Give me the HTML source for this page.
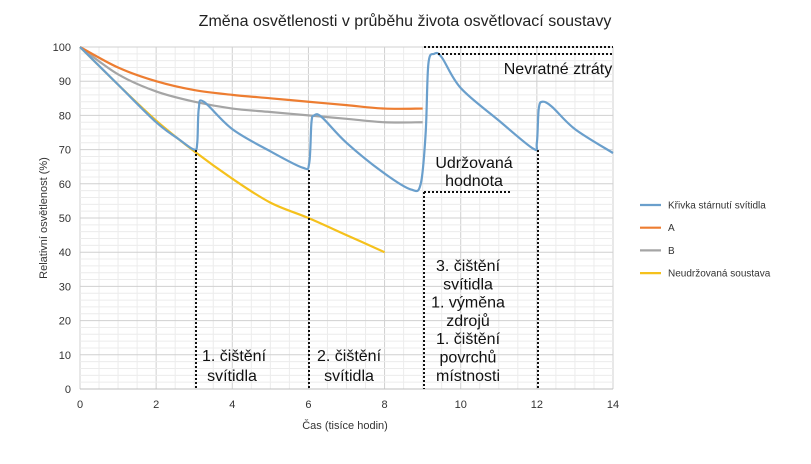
<!DOCTYPE html>
<html><head><meta charset="utf-8"><style>
body{margin:0;background:#fff}
svg{display:block;font-family:"Liberation Sans",Arial,sans-serif}
</style></head><body>
<svg id="c" width="811" height="464" viewBox="0 0 811 464">
<g id="grid"></g>
<g id="series"></g>
<g id="annot">
<text x="405" y="26" font-size="16" text-anchor="middle" fill="#222">Změna osvětlenosti v průběhu života osvětlovací soustavy</text>
<text x="345" y="429" font-size="11" text-anchor="middle" fill="#333">Čas (tisíce hodin)</text>
<text transform="translate(47,218) rotate(-90)" font-size="11" text-anchor="middle" fill="#333">Relativní osvětlenost (%)</text>
<g fill="#111" font-size="16" text-anchor="middle">
<text x="234" y="361"><tspan x="234">1. čištění</tspan><tspan x="232" dy="20">svítidla</tspan></text>
<text x="349" y="361"><tspan x="349">2. čištění</tspan><tspan x="349" dy="20">svítidla</tspan></text>
<text x="468" y="271"><tspan x="468">3. čištění</tspan><tspan x="468" dy="18.3">svítidla</tspan><tspan x="468" dy="18.3">1. výměna</tspan><tspan x="468" dy="18.3">zdrojů</tspan><tspan x="468" dy="18.3">1. čištění</tspan><tspan x="468" dy="18.3">povrchů</tspan><tspan x="468" dy="18.3">místnosti</tspan></text>
<text x="474" y="168"><tspan x="474">Udržovaná</tspan><tspan x="474" dy="18">hodnota</tspan></text>
<text x="558" y="74">Nevratné ztráty</text>
</g>
<g stroke="#111" stroke-width="2" stroke-dasharray="2,2" fill="none">
<line x1="196" y1="150" x2="196" y2="389"/>
<line x1="309" y1="170" x2="309" y2="389"/>
<line x1="424" y1="192" x2="424" y2="389"/>
<line x1="424" y1="192" x2="512" y2="192"/>
<line x1="538" y1="150" x2="538" y2="389"/>
<line x1="424" y1="47" x2="613" y2="47"/>
<line x1="438" y1="54" x2="613" y2="54"/>
</g>
</g>
<g id="legend"></g>
</svg>
<script>
const xTicks=[0,2,4,6,8,10,12,14];
const yTicks=[0,10,20,30,40,50,60,70,80,90,100];
const seriesNames=["Křivka stárnutí svítidla","A","B","Neudržovaná soustava"];
const seriesColors=["#6a9fcc","#ed7d31","#a5a5a5","#f5c11c"];
const agingX=[0,1,2,2.6,3.0,3.08,3.12,3.25,4,5,5.85,6.02,6.08,6.15,6.35,7,8,8.7,8.95,9.08,9.15,9.3,9.5,10,11,11.9,12.0,12.05,12.15,12.4,13,14];
const agingY=[100,89,78,73,70,72,82,84,76,69.5,64.7,66,78,80,79.5,72,63,58.3,60,75,95,98,97,88,78.5,70.3,72,82,84,82.5,76,69];
const aX=[0,1,2,3,4,5,6,7,8,9];
const aY=[100,94,90,87.4,86,85,84,83,82,82];
const bX=[0,1,2,3,4,5,6,7,8,9];
const bY=[100,92,87,84,82,81,80,79,78,78];
const uX=[0,1,2,3,4,5,6,7,8];
const uY=[100,89,78.5,69.5,61.5,54.5,50,45,40];
const X0=80,X1=613,Y0=389,Y1=47;
const sx=v=>X0+(v-0)/(14-0)*(X1-X0);
const sy=v=>Y0-(v-0)/(100-0)*(Y0-Y1);
const NS="http://www.w3.org/2000/svg";
function mk(t,a,p){const e=document.createElementNS(NS,t);for(const k in a)e.setAttribute(k,a[k]);p.appendChild(e);return e;}
const grid=document.getElementById('grid');
for(let v=0;v<=14.001;v+=0.5){const l=mk('line',{x1:sx(v),x2:sx(v),y1:Y1,y2:Y0,stroke:v%2===0?'#d0d0d0':'#ececec','stroke-width':1},grid);

}
for(let v=0;v<=100.001;v+=2){const l=mk('line',{x1:X0,x2:X1,y1:sy(v),y2:sy(v),stroke:v%10===0?'#d0d0d0':'#ececec','stroke-width':1},grid);

}
const ax=mk('line',{x1:X0,x2:X1,y1:Y0,y2:Y0,stroke:'#bfbfbf'},grid);


xTicks.forEach(v=>{const t=mk('text',{x:sx(v),y:408,'font-size':11,'text-anchor':'middle',fill:'#333'},grid);t.textContent=v;

});
yTicks.forEach(v=>{const t=mk('text',{x:71,y:sy(v)+4,'font-size':11,'text-anchor':'end',fill:'#333'},grid);t.textContent=v;

});
function smooth(xs,ys){const p=xs.map((x,i)=>[sx(x),sy(ys[i])]);let d='M'+p[0][0]+','+p[0][1];
for(let i=0;i<p.length-1;i++){const p0=p[i-1]||p[i],p1=p[i],p2=p[i+1],p3=p[i+2]||p2;
const c1=[p1[0]+(p2[0]-p0[0])/6,p1[1]+(p2[1]-p0[1])/6],c2=[p2[0]-(p3[0]-p1[0])/6,p2[1]-(p3[1]-p1[1])/6];
d+=' C'+c1+' '+c2+' '+p2;}return d;}
const ser=document.getElementById('series');
const all=[[agingX,agingY],[aX,aY],[bX,bY],[uX,uY]];
const names=['aging-curve','series-a','series-b','unmaintained-curve'];
[3,2,1,0].forEach(i=>{const p=mk('path',{d:smooth(all[i][0],all[i][1]),fill:'none',stroke:seriesColors[i],'stroke-width':2.2},ser);

});
const lg=document.getElementById('legend');
seriesNames.forEach((n,i)=>{const y=205+i*22.7;
const l=mk('line',{x1:640,x2:661,y1:y,y2:y,stroke:seriesColors[i],'stroke-width':2.2},lg);


const t=mk('text',{x:668,y:y+3.5,'font-size':10,fill:'#333'},lg);t.textContent=n;

});
</script>
</body></html>
